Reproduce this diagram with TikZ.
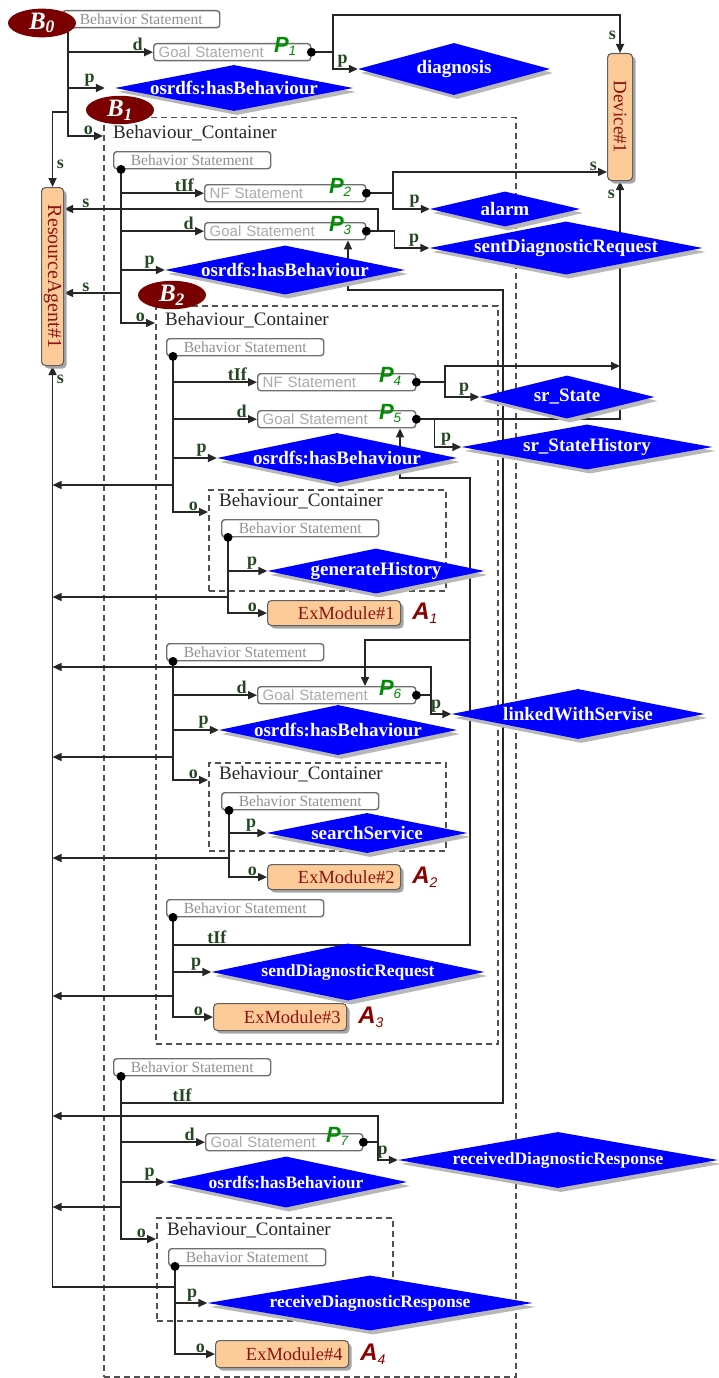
\documentclass[tikz,border=0pt]{standalone}
\usepackage{fontspec}
\setmainfont{Liberation Serif}
\setsansfont{Liberation Sans}
\usetikzlibrary{shapes.geometric,arrows.meta,shadows}
\definecolor{labg}{RGB}{34,72,34}
\definecolor{pgr}{RGB}{0,140,0}
\definecolor{diab}{RGB}{0,0,255}
\definecolor{exf}{RGB}{253,203,152}
\definecolor{exb}{RGB}{95,95,95}
\definecolor{ext}{RGB}{140,20,20}
\definecolor{ared}{RGB}{140,0,0}
\definecolor{ell}{RGB}{122,0,0}
\definecolor{stb}{RGB}{110,110,110}
\definecolor{stt}{RGB}{145,145,145}
\definecolor{gtt}{RGB}{170,170,170}
\definecolor{contc}{RGB}{80,80,80}
\pgfdeclarelayer{back}
\pgfdeclarelayer{mid}
\pgfsetlayers{back,mid,main}
\newcommand\PLab[1]{{\bfseries\itshape\fontsize{22}{22}\selectfont P}\raisebox{-3pt}{\itshape\fontsize{13.5}{13.5}\selectfont #1}}
\newcommand\ALab[1]{{\bfseries\itshape\fontsize{24}{24}\selectfont A}\raisebox{-4pt}{\itshape\fontsize{14}{14}\selectfont #1}}
\tikzset{
  ln/.style={line width=1.5pt, draw=black!85},
  arr/.style={ln, -{Triangle[length=9pt,width=8pt]}},
  lab/.style={text=labg, font=\fontsize{18}{18}\selectfont\bfseries, inner sep=0.5pt},
  la/.style={lab, pos=1, anchor=south east, xshift=-9pt},
  sla/.style={lab, pos=1, anchor=south west, xshift=17pt},
  stmt/.style={draw=stb, line width=1.4pt, rounded corners=3pt, fill=white, minimum width=157pt, minimum height=17pt, inner sep=0pt, text=stt, font=\fontsize{15.5}{15.5}\selectfont, anchor=north west},
  gbox/.style={draw=stb, line width=1.4pt, rounded corners=3pt, fill=white, text width=#1, inner xsep=5pt, inner ysep=0pt, minimum height=17pt, align=left, text=gtt, font=\sffamily\fontsize{15}{15}\selectfont, anchor=north west},
  gbox/.default=147pt,
  plab/.style={text=pgr, font=\sffamily, inner sep=0pt, anchor=south east},
  alab/.style={text=ared, font=\sffamily, inner sep=0pt, anchor=west},
  dia/.style={diamond, fill=diab, inner sep=0pt, drop shadow={shadow xshift=3pt, shadow yshift=-4pt, fill=black!28, opacity=1}},
  dtxt/.style={text=white, font=\fontsize{19}{19}\selectfont\bfseries, inner sep=0pt},
  dtxs/.style={text=white, font=\fontsize{17.5}{17.5}\selectfont\bfseries, inner sep=0pt},
  exm/.style={draw=exb, line width=1.1pt, rounded corners=4pt, fill=exf, text=ext, drop shadow={shadow xshift=3pt, shadow yshift=-3pt, fill=black!35, opacity=1}},
  exbox/.style={exm, text width=121pt, inner xsep=6pt, inner ysep=0pt, minimum height=#1, align=right, anchor=north west, font=\fontsize{18.5}{18.5}\selectfont},
  exbox/.default=25pt,
  cont/.style={draw=contc, dash pattern=on 6pt off 4pt, line width=1.5pt, inner sep=0pt, anchor=north west},
  ctitle/.style={font=\fontsize{19}{19}\selectfont, text=black!85, inner sep=1pt, anchor=west},
  bell/.style={ellipse, fill=ell, minimum width=68pt, minimum height=27pt, inner sep=0pt, text=white, font=\fontsize{25}{25}\selectfont\bfseries\itshape},
}
\begin{document}
\begin{tikzpicture}[x=1pt, y=-1pt]
\useasboundingbox (0,0) rectangle (718,1378);
% ---------- containers
\begin{pgfonlayer}{back}
\node[cont, minimum width=412pt, minimum height=1259pt] (c1) at (103,117) {};
\node[cont, minimum width=342pt, minimum height=738pt] (c2) at (155,305) {};
\node[cont, minimum width=237pt, minimum height=101pt] (c3) at (208,489) {};
\node[cont, minimum width=237pt, minimum height=88pt] (c5) at (208,762) {};
\node[cont, minimum width=236pt, minimum height=103pt] (c8) at (156,1217) {};
\end{pgfonlayer}
% ---------- B0
\node[stmt] (bs0) at (62,10) {Behavior Statement};
\node[bell] (b0) at (42,23) {B\textsubscript{0}};
\node[gbox] (g1) at (153,43) {Goal Statement};
\node[plab] (p1) at ([xshift=-15pt,yshift=5.5pt]g1.south east) {\PLab{1}};
\node[dia, minimum width=238pt, minimum height=46pt, label={[name=th0,dtxt]center:{osrdfs:hasBehaviour}}] (h0) at (234,88) {};
\node[dia, minimum width=192pt, minimum height=52pt, label={[name=tdiag,dtxt]center:diagnosis}] (diag) at (454,69) {};
\node[exm, minimum width=25pt, minimum height=127pt, inner sep=0pt, anchor=north west, label={[name=tdev,text=ext, rotate=-90, font=\fontsize{19}{19}\selectfont]center:{Device\#1}}] (dev) at (607,53) {};
\node[exm, minimum width=22pt, minimum height=178pt, inner sep=0pt, anchor=north west, label={[name=tra,text=ext, rotate=-90, font=\fontsize{20}{20}\selectfont]center:{ResourceAgent\#1}}] (ra) at (41,187) {};
% ---------- B1
\node[bell] (b1) at (120,110) {B\textsubscript{1}};
\node[ctitle] (bc1) at ([xshift=9pt,yshift=-16pt]c1.north west) {Behaviour\_Container};
\node[stmt] (bs1) at (113,151) {Behavior Statement};
\node[gbox=151pt] (nf2) at (204,184) {NF Statement};
\node[plab] (p2) at ([xshift=-15pt,yshift=5.5pt]nf2.south east) {\PLab{2}};
\node[gbox=151pt] (g3) at (204,222) {Goal Statement};
\node[plab] (p3) at ([xshift=-15pt,yshift=5.5pt]g3.south east) {\PLab{3}};
\node[dia, minimum width=240pt, minimum height=49pt, label={[name=th1,dtxt]center:{osrdfs:hasBehaviour}}] (h1) at (285,270) {};
\node[dia, minimum width=150pt, minimum height=35pt, label={[name=talarm,dtxt]center:alarm}] (alarm) at (505,209) {};
\node[dia, minimum width=273pt, minimum height=53pt, label={[name=tsdr,dtxt]center:sentDiagnosticRequest}] (sdr) at (566,248) {};
% ---------- B2
\node[bell] (b2) at (172,295) {B\textsubscript{2}};
\node[ctitle] (bc2) at ([xshift=9pt,yshift=-15pt]c2.north west) {Behaviour\_Container};
\node[stmt] (bs2) at (166,338) {Behavior Statement};
\node[gbox=148pt] (nf4) at (257,373) {NF Statement};
\node[plab] (p4) at ([xshift=-15pt,yshift=5.5pt]nf4.south east) {\PLab{4}};
\node[gbox=148pt] (g5) at (257,410) {Goal Statement};
\node[plab] (p5) at ([xshift=-15pt,yshift=5.5pt]g5.south east) {\PLab{5}};
\node[dia, minimum width=175pt, minimum height=43pt, label={[name=tsrs,dtxt]center:{sr\_State}}] (srs) at (567,397) {};
\node[dia, minimum width=251pt, minimum height=45pt, label={[name=tsrh,dtxt]center:{sr\_StateHistory}}] (srh) at (587,447) {};
\node[dia, minimum width=240pt, minimum height=50pt, label={[name=th2,dtxt]center:{osrdfs:hasBehaviour}}] (h2) at (337,458) {};
% ---------- B3
\node[ctitle] (bc3) at ([xshift=10pt,yshift=-12pt]c3.north west) {Behaviour\_Container};
\node[stmt] (bs3) at (221,519) {Behavior Statement};
\node[dia, minimum width=217pt, minimum height=45pt, label={[name=tgh,dtxt]center:generateHistory}] (gh) at (376,571) {};
\node[exbox] (ex1) at (267,600) {ExModule\#1};
\node[alab] (a1) at ([xshift=11pt]ex1.east) {\ALab{1}};
% ---------- B4
\node[stmt] (bs4) at (166,643) {Behavior Statement};
\node[gbox=148pt] (g6) at (257,686) {Goal Statement};
\node[plab] (p6) at ([xshift=-15pt,yshift=5.5pt]g6.south east) {\PLab{6}};
\node[dia, minimum width=253pt, minimum height=50pt, label={[name=tlws,dtxt]center:linkedWithServise}] (lws) at (578,714) {};
\node[dia, minimum width=238pt, minimum height=50pt, label={[name=th4,dtxt]center:{osrdfs:hasBehaviour}}] (h4) at (338,730) {};
% ---------- B5
\node[ctitle] (bc5) at ([xshift=10pt,yshift=-12pt]c5.north west) {Behaviour\_Container};
\node[stmt] (bs5) at (221,792) {Behavior Statement};
\node[dia, minimum width=201pt, minimum height=40pt, label={[name=tss,dtxt]center:searchService}] (ss) at (367,833) {};
\node[exbox] (ex2) at (267,864) {ExModule\#2};
\node[alab] (a2) at ([xshift=11pt]ex2.east) {\ALab{2}};
% ---------- B6
\node[stmt] (bs6) at (166,899) {Behavior Statement};
\node[dia, minimum width=273pt, minimum height=57pt, label={[name=tsdq,dtxs]center:sendDiagnosticRequest}] (sdq) at (348,972) {};
\node[exbox=27pt] (ex3) at (213,1003) {ExModule\#3};
\node[alab] (a3) at ([xshift=11pt]ex3.east) {\ALab{3}};
% ---------- B7
\node[stmt] (bs7) at (113,1058) {Behavior Statement};
\node[gbox=147pt] (g7) at (205,1133) {Goal Statement};
\node[plab] (p7) at ([xshift=-15pt,yshift=5.5pt]g7.south east) {\PLab{7}};
\node[dia, minimum width=320pt, minimum height=56pt, label={[name=trdr,dtxs]center:receivedDiagnosticResponse}] (rdr) at (558,1160) {};
\node[dia, minimum width=242pt, minimum height=51pt, label={[name=th7,dtxs]center:{osrdfs:hasBehaviour}}] (h7) at (286,1182) {};
% ---------- B8
\node[ctitle] (bc8) at ([xshift=10pt,yshift=-13pt]c8.north west) {Behaviour\_Container};
\node[stmt] (bs8) at (168,1248) {Behavior Statement};
\node[dia, minimum width=325pt, minimum height=55pt, label={[name=trdr2,dtxs]center:receiveDiagnosticResponse}] (rdr2) at (370,1303) {};
\node[exbox=27pt] (ex4) at (215,1340) {ExModule\#4};
\node[alab] (a4) at ([xshift=11pt]ex4.east) {\ALab{4}};
% ---------- coordinates
\coordinate (dot0) at ([xshift=6pt]bs0.south west);
\coordinate (dot1) at ([xshift=8pt]bs1.south west);
\coordinate (dot2) at ([xshift=7pt]bs2.south west);
\coordinate (dot3) at ([xshift=7pt]bs3.south west);
\coordinate (dot4) at ([xshift=7pt]bs4.south west);
\coordinate (dot5) at ([xshift=8pt]bs5.south west);
\coordinate (dot6) at ([xshift=7pt]bs6.south west);
\coordinate (dot7) at ([xshift=8pt]bs7.south west);
\coordinate (dot8) at ([xshift=7pt]bs8.south west);
\coordinate (j0) at (dot0 |- 0,112);
\coordinate (j1) at (333,15);
\coordinate (j2) at (393,172);
\coordinate (j3) at (378,209);
\coordinate (j4) at (445,366);
\coordinate (j6) at (431,667);
\coordinate (j7) at (378,1116);
\coordinate (t6) at (470,945);
\coordinate (u6) at (400,478);
\coordinate (v6) at (365,640);
\coordinate (t7) at (503,1103);
\coordinate (u7) at (348,290);
\coordinate (sb1) at (dot1 |- 0,293);
\coordinate (sb2) at (dot2 |- 0,485);
\coordinate (sb3) at (dot3 |- 0,597);
\coordinate (sb4) at (dot4 |- 0,757);
\coordinate (sb5) at (dot5 |- 0,858);
\coordinate (sb6) at (dot6 |- 0,996);
\coordinate (sb7) at (dot7 |- 0,1207);
\coordinate (sb8) at (dot8 |- 0,1287);
% ---------- connectors
\begin{pgfonlayer}{mid}
% B0
\draw[arr] (dot0) |- (g1) node[la] (l01) {d};
\draw[arr, shorten >=10pt] (dot0) |- (h0) node[la, xshift=-10pt] (l02) {p};
\draw[arr] (dot0) |- ([yshift=-19pt]c1.north west) node[la] (l03) {o};
\draw[arr] (j0) -| (ra) node[lab, pos=1, anchor=south west, xshift=3pt, yshift=17pt] (l04) {s};
\draw[arr] (g1.east) -| (j1) -| (dev) node[lab, pos=1, anchor=south east, xshift=-3pt, yshift=12pt] (l05) {s};
\draw[arr] (j1 |- g1.east) |- (diag) node[la] (l06) {p};
% B1
\draw[arr] (dot1) |- (nf2) node[la] (l11) {tIf};
\draw[arr] (dot1) |- (g3) node[la] (l12) {d};
\draw[arr] (dot1) |- (h1) node[la] (l13) {p};
\draw[arr] (dot1) |- ([yshift=-18pt]c2.north west) node[la] (l14) {o};
\draw[arr] (sb1) -- (ra.east |- sb1) node[sla] (l15) {s};
\draw[arr] (nf2.east) -| (j2) -- (dev.west |- j2) node[la] (l16) {s};
\draw[arr] (j2 |- nf2.east) |- (alarm) node[la] (l17) {p};
\draw[arr] (g3.east) -- ++(28,0) |- (sdr) node[la] (l18) {p};
\draw[arr] (j3 |- g3.east) -- (j3) -- (ra.east |- j3) node[sla] (l19) {s};
\draw[arr] (dot7) |- (t7) node[lab, pos=0.58, anchor=south] (l71) {tIf} -- (t7 |- u7) -- (u7) -- (u7 |- g3.south);
% B2
\draw[arr] (dot2) |- (nf4) node[la] (l21) {tIf};
\draw[arr] (dot2) |- (g5) node[la] (l22) {d};
\draw[arr] (dot2) |- (h2) node[la] (l23) {p};
\draw[arr] (dot2) |- ([yshift=-23pt]c3.north west) node[la] (l24) {o};
\draw[arr] (sb2) -- (ra |- sb2);
\draw[arr] (nf4.east) -| (j4) -- (dev |- j4);
\draw[arr] (j4 |- nf4.east) |- (srs) node[la] (l25) {p};
\draw[arr] (g5.east) -| (dev) node[lab, pos=1, anchor=north east, xshift=-4pt, yshift=-8pt] (l26) {s};
\draw[arr] (g5.east) -- ++(18,0) |- (srh) node[la] (l27) {p};
\draw[arr] (dot6) |- (t6) node[lab, pos=0.574, anchor=south] (l61) {tIf} -- (t6 |- u6) -- (u6) -- (u6 |- g5.south);
\draw[arr] (t6 |- v6) -- (v6) -- (v6 |- g6.north);
% B3
\draw[arr] (dot3) |- (gh) node[la] (l31) {p};
\draw[arr] (dot3) |- (ex1) node[la] (l32) {o};
\draw[arr] (sb3) -- (ra |- sb3);
% B4
\draw[arr] (dot4) |- (g6) node[la] (l41) {d};
\draw[arr] (dot4) |- (h4) node[la] (l42) {p};
\draw[arr] (dot4) |- ([yshift=-18pt]c5.north west) node[la] (l43) {o};
\draw[arr] (sb4) -- (ra |- sb4);
\draw[arr] (g6.east) -| (j6) -- (ra |- j6);
\draw[arr] (j6 |- g6.east) |- (lws) node[la] (l44) {p};
% B5
\draw[arr] (dot5) |- (ss) node[la] (l51) {p};
\draw[arr] (dot5) |- (ex2) node[la] (l52) {o};
\draw[arr] (sb5) -- (ra |- sb5);
% B6
\draw[arr] (dot6) |- (sdq) node[la] (l62) {p};
\draw[arr] (dot6) |- (ex3) node[la] (l63) {o};
\draw[arr] (sb6) -- (ra |- sb6);
% B7
\draw[arr] (dot7) |- (g7) node[la] (l72) {d};
\draw[arr] (dot7) |- (h7) node[la] (l73) {p};
\draw[arr] (dot7) |- ([yshift=-22pt]c8.north west) node[la] (l74) {o};
\draw[arr] (sb7) -- (ra |- sb7);
\draw[arr] (g7.east) -| (j7) -- (ra |- j7);
\draw[arr] (j7 |- g7.east) |- (rdr) node[la] (l75) {p};
% B8
\draw[arr] (sb8) -| (ra) node[lab, pos=1, anchor=north west, xshift=3pt, yshift=-8pt] (l81) {s};
\draw[arr] (dot8) |- (rdr2) node[la] (l82) {p};
\draw[arr] (dot8) |- (ex4) node[la] (l83) {o};
\end{pgfonlayer}
% ---------- dots
\foreach \d in {dot1,dot2,dot3,dot4,dot5,dot6,dot7,dot8,g1.east,nf2.east,g3.east,nf4.east,g5.east,g6.east,g7.east}
  \fill[black] (\d) circle (4.5pt);
\end{tikzpicture}
\end{document}
